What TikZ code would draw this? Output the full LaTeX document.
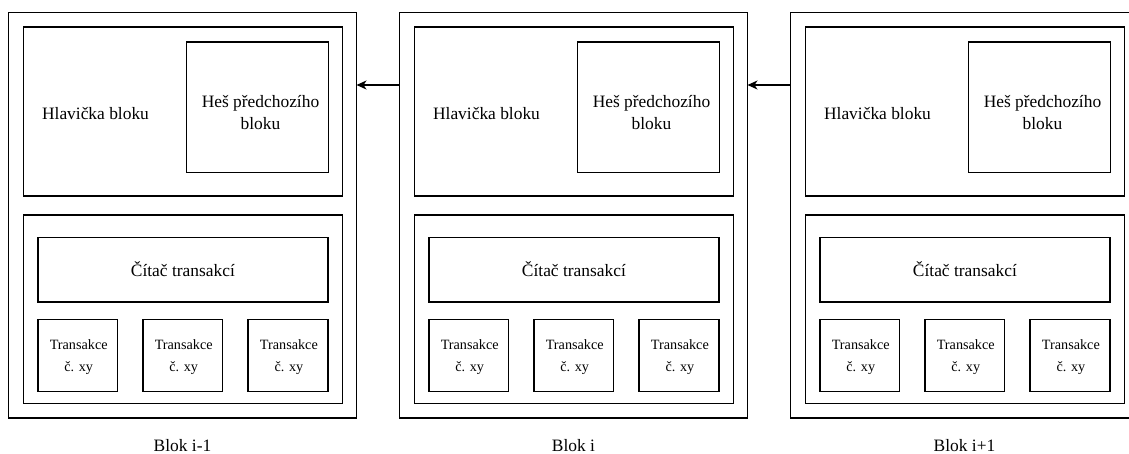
\documentclass[tikz,border=0pt]{standalone}
\usepackage{fontspec}
\newfontfamily\timesf{Liberation Serif}
\usetikzlibrary{arrows.meta}
\begin{document}
\begin{tikzpicture}[x=1pt,y=-1pt,
  box/.style={draw=black, line width=1.2pt, inner sep=0pt, outer sep=0pt, anchor=north west},
  bigtxt/.style={inner sep=0pt, align=center, font=\timesf\fontsize{17.4}{22}\selectfont},
  smalltxt/.style={inner sep=0pt, align=center, font=\timesf\fontsize{14.2}{22}\selectfont},
  arr/.style={line width=1.2pt, -{Stealth[length=10pt,width=9pt,inset=3pt]}}]
\useasboundingbox (0,0) rectangle (1129,454);
\clip (0,0) rectangle (1129,454);
\foreach \L/\n/\lab in {8.5/a/{Blok i-1}, 399.5/b/{Blok i}, 790.5/c/{Blok i+1}} {
  \node[box, minimum width=348pt, minimum height=405.5pt] (outer\n) at (\L,12.5) {};
  \node[box, minimum width=318.7pt, minimum height=169pt] (head\n) at (\L+15,27) {};
  \node[bigtxt] (headtxt\n) at (\L+87,114) {Hlavička bloku};
  \node[box, minimum width=142.3pt, minimum height=130.5pt] (hash\n) at (\L+177.7,42) {};
  \node[bigtxt] (hashtxt\n) at (\L+252,113) {Heš předchozího\\bloku};
  \node[box, minimum width=318.7pt, minimum height=188.3pt] (body\n) at (\L+15,215) {};
  \node[box, minimum width=290pt, minimum height=64.5pt] (count\n) at (\L+29.4,237.5) {};
  \node[bigtxt] (counttxt\n) at (\L+174.4,269.5) {Čítač transakcí};
  \node[box, minimum width=79.6pt, minimum height=72.4pt] (ta\n) at (\L+29.4,319.3) {};
  \node[box, minimum width=79.6pt, minimum height=72.4pt] (tb\n) at (\L+134.4,319.3) {};
  \node[box, minimum width=80pt, minimum height=72.4pt] (tc\n) at (\L+239.4,319.3) {};
  \node[smalltxt] (tatxt\n) at (\L+70.2,357) {Transakce\\č. xy};
  \node[smalltxt] (tbtxt\n) at (\L+175.2,357) {Transakce\\č. xy};
  \node[smalltxt] (tctxt\n) at (\L+280.4,357) {Transakce\\č. xy};
  \node[bigtxt] (lab\n) at (\L+174,446) {\lab};
}
\coordinate (lvl) at (0,85);
\draw[arr] (outerb.west |- lvl) -- (outera.east |- lvl);
\draw[arr] (outerc.west |- lvl) -- (outerb.east |- lvl);
\end{tikzpicture}
\end{document}
